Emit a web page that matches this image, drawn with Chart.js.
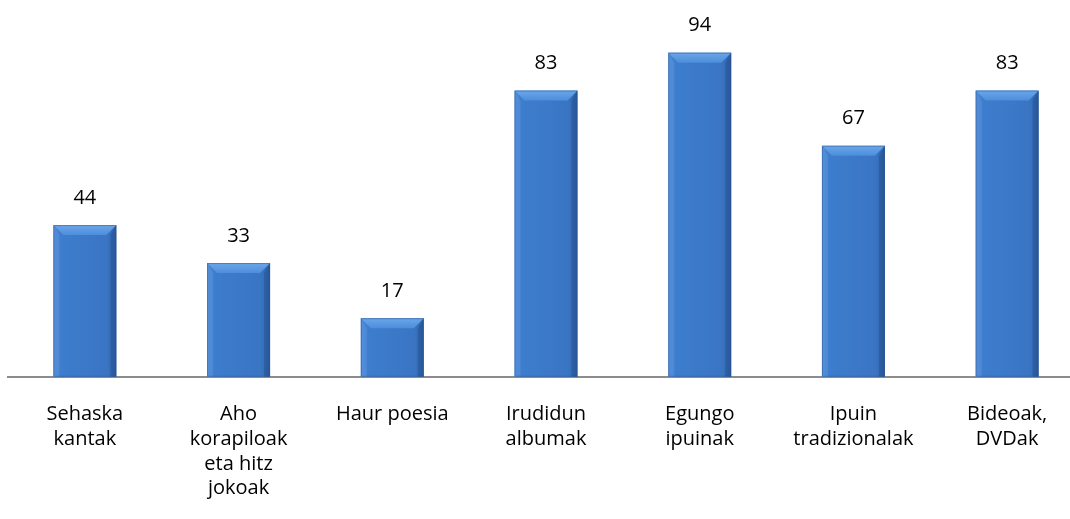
<!DOCTYPE html>
<html>
<head>
<meta charset="utf-8">
<script src="https://cdn.jsdelivr.net/npm/chart.js@4.4.1/dist/chart.umd.min.js"></script>
<style>
  html, body { margin: 0; padding: 0; background: #fff; overflow: hidden; }
  #wrap { width: 1092px; height: 528px; }
</style>
</head>
<body>
<div id="wrap"><canvas id="chart"></canvas></div>
<script>
// category labels (split into lines as in the picture)
const categories = [
  ['Sehaska', 'kantak'],
  ['Aho', 'korapiloak', 'eta hitz', 'jokoak'],
  ['Haur poesia'],
  ['Irudidun', 'albumak'],
  ['Egungo', 'ipuinak'],
  ['Ipuin', 'tradizionalak'],
  ['Bideoak,', 'DVDak']
]
const values = [44, 33, 17, 83, 94, 67, 83]

const FONT = '"Open Sans", sans-serif'

// bevelled bar look + value labels
const barStyle = {
  id: 'barStyle',
  afterDatasetsDraw(chart) {
    const ctx = chart.ctx
    const meta = chart.getDatasetMeta(0)
    meta.data.forEach((bar, i) => {
      const { x, y, width, base } = bar.getProps(['x', 'y', 'width', 'base'], true)
      const l = x - width / 2
      const r = x + width / 2
      const bev = Math.min(10, (base - y) / 2)

      // side shading
      const g = ctx.createLinearGradient(l, 0, r, 0)
      g.addColorStop(0, '#4a88d6')
      g.addColorStop(0.12, '#3d7dcd')
      g.addColorStop(0.85, '#3a75c4')
      g.addColorStop(1, '#2f62a6')
      ctx.save()
      ctx.fillStyle = g
      ctx.fillRect(l, y, width, base - y)

      // top bevel
      ctx.beginPath()
      ctx.moveTo(l, y)
      ctx.lineTo(r, y)
      ctx.lineTo(r - bev, y + bev)
      ctx.lineTo(l + bev, y + bev)
      ctx.closePath()
      const tg = ctx.createLinearGradient(0, y, 0, y + bev)
      tg.addColorStop(0, '#6aa6ea')
      tg.addColorStop(1, '#4d8dda')
      ctx.fillStyle = tg
      ctx.fill()

      // left bevel
      ctx.beginPath()
      ctx.moveTo(l, y)
      ctx.lineTo(l + bev * 0.6, y + bev)
      ctx.lineTo(l + bev * 0.6, base)
      ctx.lineTo(l, base)
      ctx.closePath()
      ctx.fillStyle = 'rgba(110,160,225,0.3)'
      ctx.fill()

      // right bevel
      ctx.beginPath()
      ctx.moveTo(r, y)
      ctx.lineTo(r - bev * 0.6, y + bev)
      ctx.lineTo(r - bev * 0.6, base)
      ctx.lineTo(r, base)
      ctx.closePath()
      ctx.fillStyle = 'rgba(20,55,110,0.25)'
      ctx.fill()

      ctx.strokeStyle = 'rgba(40,80,140,0.45)'
      ctx.lineWidth = 1
      ctx.strokeRect(l + 0.5, y + 0.5, width - 1, base - y - 1)

      // value label
      ctx.fillStyle = '#000'
      ctx.font = '20px ' + FONT
      ctx.textAlign = 'center'
      ctx.textBaseline = 'middle'
      ctx.fillText(values[i], x, y - 27)
      ctx.restore()
    })
  }
}

new Chart(document.getElementById('chart'), {
  type: 'bar',
  data: {
    labels: categories,
    datasets: [{
      data: values,
      backgroundColor: 'rgba(0,0,0,0)',
      borderWidth: 0,
      categoryPercentage: 1,
      barPercentage: 0.41
    }]
  },
  options: {
    responsive: true,
    maintainAspectRatio: false,
    animation: false,
    layout: { padding: { left: 8, right: 8, top: 32, bottom: 10 } },
    plugins: {
      legend: { display: false },
      tooltip: { enabled: false }
    },
    scales: {
      x: {
        grid: { display: false },
        border: { color: '#8c8c8c', width: 2 },
        ticks: {
          color: '#000',
          font: { family: FONT, size: 20, lineHeight: 1.24 },
          padding: 17,
          maxRotation: 0,
          autoSkip: false
        }
      },
      y: {
        display: false,
        min: 0,
        max: 100
      }
    }
  },
  plugins: [barStyle]
})
</script>
</body>
</html>
